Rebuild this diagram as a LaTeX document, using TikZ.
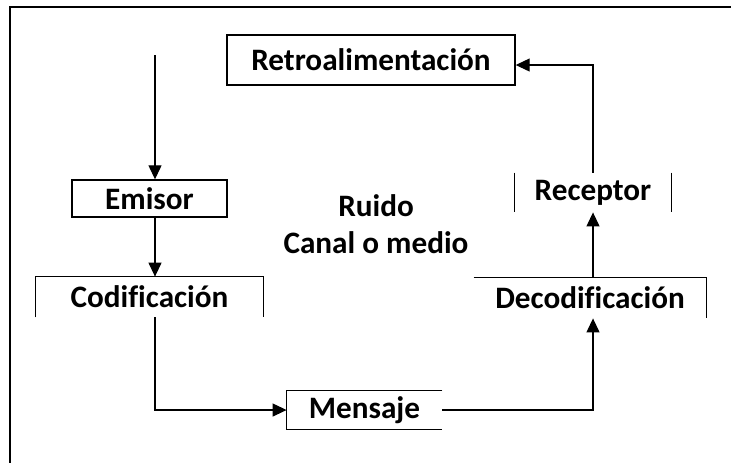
\documentclass[tikz,border=0pt]{standalone}
\usepackage{fontspec}
\setmainfont{Carlito}[Ligatures=CommonOff]
\usetikzlibrary{positioning,arrows.meta}

\tikzset{
  etiq/.style={font=\bfseries\fontsize{15.6}{18.5}\selectfont, inner sep=0pt},
  caja/.style={etiq, draw, line width=0.7pt},
  flecha/.style={line width=0.6pt, -{Triangle[width=6.5pt,length=7pt]}}
}

\begin{document}
\begin{tikzpicture}[x=0.5pt,y=-0.5pt]
  \useasboundingbox (0,0) rectangle (731,463);
  % marco
  \draw[line width=0.6pt] (731,7) -- (10,7) -- (10,463);

  \node[caja, minimum width=144pt, minimum height=25pt] (retro) at (371,60) {Retroalimentación};
  \node[caja, minimum width=77.5pt, minimum height=18.5pt] (emisor) at (149.5,198.5) {Emisor};
  \node[etiq, minimum width=113.5pt, minimum height=20pt] (codif) at (149.5,297) {Codificación};
  \node[etiq, minimum width=77.5pt, minimum height=19pt] (mensaje) at (364.5,410) {Mensaje};
  \node[etiq, minimum width=116pt, minimum height=20pt] (decod) at (590,298) {Decodificación};
  \node[etiq, minimum width=78pt, minimum height=19.5pt] (receptor) at (593,192.5) {Receptor};
  \node[etiq, align=center] (ruido) at (376,224) {Ruido\\Canal o medio};

  % lados visibles
  \draw[line width=0.7pt] (codif.south west) -- (codif.north west) -- (codif.north east) -- (codif.south east);
  \draw[line width=0.7pt] (mensaje.north east) -- (mensaje.north west) -- (mensaje.south west) -- (mensaje.south east);
  \draw[line width=0.7pt] (decod.north west) -- (decod.north east) -- (decod.south east);
  \draw[line width=0.7pt] (receptor.north west) -- (receptor.south west);
  \draw[line width=0.7pt] (receptor.north east) -- (receptor.south east);

  \coordinate (inicio) at (155,55);

  \draw[flecha] (inicio) -- (inicio |- emisor.north);
  \draw[flecha] (emisor.south -| inicio) -- (codif.north -| inicio);
  \draw[flecha] (codif.south -| inicio) |- (mensaje.west);
  \draw[flecha] (mensaje.east) -| (decod.south -| receptor.south);
  \draw[flecha] (decod.north -| receptor.south) -- (receptor.south);
  \draw[flecha] (receptor.north) |- ([yshift=-2.5pt]retro.east);
\end{tikzpicture}
\end{document}
